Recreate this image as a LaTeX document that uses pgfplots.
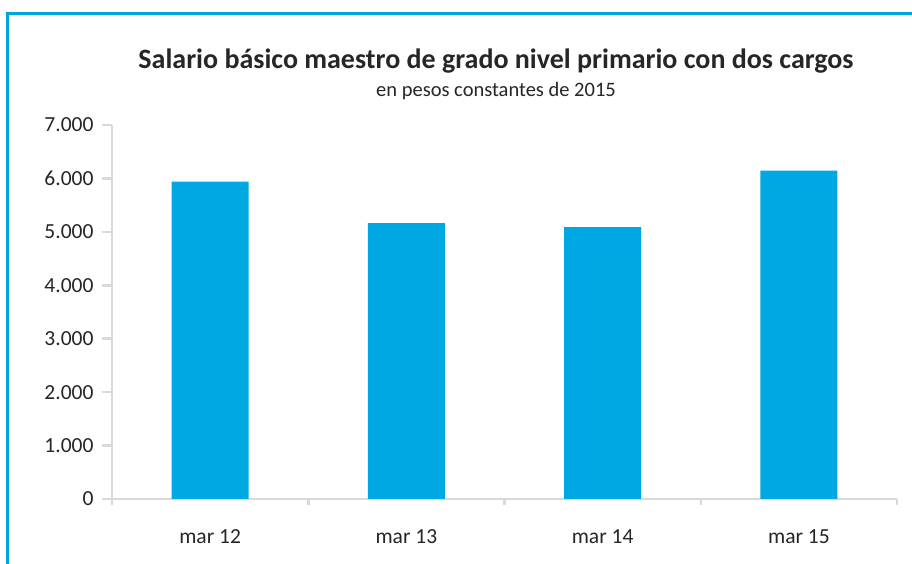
\documentclass[border=0pt]{standalone}
\usepackage{pgfplots}
\pgfplotsset{compat=1.18}
\usepackage{fontspec}
\setmainfont{Carlito}
\definecolor{barblue}{HTML}{00A8E3}
\definecolor{framecyan}{HTML}{00A3DC}
\definecolor{axgray}{HTML}{D9D9D9}
\begin{document}
\begin{tikzpicture}[x=1pt,y=1pt]
  \useasboundingbox (0,0) rectangle (912,564);
  \fill[white] (0,0) rectangle (912,564);
  \draw[framecyan, line width=3pt] (7,0) -- (7,550) -- (912,550);
  \node[font=\fontsize{28}{32}\selectfont\bfseries, text=black!85] at (496,503) {Salario básico maestro de grado nivel primario con dos cargos};
  \node[font=\fontsize{20.5}{24}\selectfont, text=black!85] at (496,473) {en pesos constantes de 2015};
  \begin{axis}[
      at={(112pt,65pt)}, anchor=south west,
      scale only axis,
      width=785pt, height=374pt,
      xmin=-0.5, xmax=3.5,
      ymin=0, ymax=7000,
      ytick={0,1000,...,7000},
      xtick={0,1,2,3},
      xticklabels={mar 12,mar 13,mar 14,mar 15},
      minor xtick={-0.5,0.5,1.5,2.5,3.5},
      axis x line*=bottom, axis y line*=left,
      axis line style={axgray, line width=2.5pt, -},
      tick style={axgray, line width=2.5pt},
      major x tick style={draw=none},
      tick align=outside,
      major tick length=10pt,
      minor tick length=6pt,
      ticklabel style={font=\fontsize{21.5}{24}\selectfont, text=black!85},
      xticklabel style={yshift=-17pt},
      yticklabel style={xshift=-5pt},
      /pgf/number format/assume math mode=true,
      /pgf/number format/1000 sep={.},
      scaled y ticks=false,
      clip=false,
    ]
    \addplot[ybar, bar width=77pt, fill=barblue, draw=none, bar shift=0pt] coordinates {
      (0,5940) (1,5165) (2,5090) (3,6145)
    };
  \end{axis}
\end{tikzpicture}
\end{document}
